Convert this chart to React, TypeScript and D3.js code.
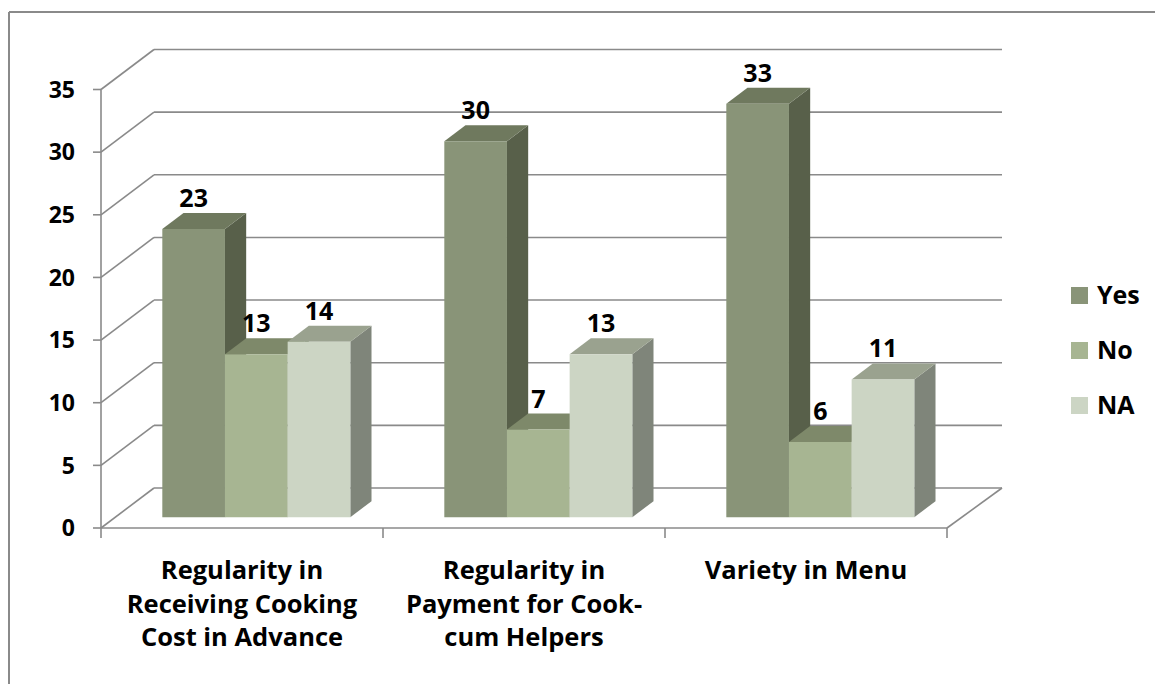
// React
import React from 'react';

// Installed Packages
import * as d3 from 'd3';

const categories: string[][] = [
    ['Regularity in', 'Receiving Cooking', 'Cost in Advance'],
    ['Regularity in', 'Payment for Cook-', 'cum Helpers'],
    ['Variety in Menu'],
];
const seriesNames = ['Yes', 'No', 'NA'];
const yesValues = [23, 30, 33];
const noValues = [13, 7, 6];
const naValues = [14, 13, 11];
const yTicks = [0, 5, 10, 15, 20, 25, 30, 35];

// front, top, side shades for each series
const faceColors = [
    { front: '#899478', top: '#6F795E', side: '#58604A' },
    { front: '#A7B592', top: '#7E896A', side: '#6A7458' },
    { front: '#CCD5C4', top: '#9AA28F', side: '#7F857A' },
];

const FONT = '"Open Sans", Lato, sans-serif';
const GRID = '#8a8a8a';

export default function App() {
    const width = 1155;
    const height = 684;

    // front plane of the 3D box
    const left = 101, right = 947, bottom = 528;
    const depthX = 53, depthY = -40;

    const y = d3.scaleLinear().domain([0, 35]).range([bottom, bottom - 438.5]);
    const x = d3.scaleBand<number>()
        .domain(categories.map((_, i) => i))
        .range([left, right])
        .paddingInner(0)
        .paddingOuter(0);
    const groupWidth = x.bandwidth() * 3 / 4.5;
    const inner = d3.scaleBand<number>().domain([0, 1, 2]).range([0, groupWidth]);

    const series = [yesValues, noValues, naValues];

    // project a front-plane point into depth (0 = front, 1 = back wall)
    const pt = (px: number, py: number, d: number) => [px + d * depthX, py + d * depthY];
    const dFront = 0.27, dBack = 0.67;

    const poly = (pts: number[][]) => pts.map(p => p.join(',')).join(' ');

    const bars: React.ReactElement[] = [];
    const labels: React.ReactElement[] = [];
    categories.forEach((_, ci) => {
        const gx = x(ci)! + (x.bandwidth() - groupWidth) / 2;
        series.forEach((vals, si) => {
            const v = vals[ci];
            const x0 = gx + inner(si)!;
            const x1 = x0 + inner.bandwidth();
            const yt = y(v), yb = y(0);
            const c = faceColors[si];
            const fl = pt(x0, yt, dFront), fr = pt(x1, yt, dFront);
            const bl = pt(x0, yt, dBack), br = pt(x1, yt, dBack);
            const frb = pt(x1, yb, dFront), brb = pt(x1, yb, dBack);
            const flb = pt(x0, yb, dFront);
            bars.push(
                <g key={`b${ci}-${si}`}>
                    <polygon points={poly([fr, br, brb, frb])} fill={c.side} />
                    <polygon points={poly([fl, bl, br, fr])} fill={c.top} />
                    <polygon points={poly([fl, fr, frb, flb])} fill={c.front} />
                </g>
            );
            labels.push(
                <text key={`l${ci}-${si}`} x={(fl[0] + fr[0]) / 2} y={bl[1] - 6}
                    textAnchor="middle" fontFamily={FONT} fontWeight="bold" fontSize={25} fill="#000">
                    {v}
                </text>
            );
        });
    });

    return (
        <div style={{ position: 'absolute', left: 0, top: 0 }}>
            <svg width={width} height={height} style={{ display: 'block', background: '#fff' }}>
                {/* chart border, cropped at right and bottom */}
                <line x1={9} y1={12} x2={width} y2={12} stroke={GRID} strokeWidth={2} />
                <line x1={9} y1={12} x2={9} y2={height} stroke={GRID} strokeWidth={2} />

                {/* back wall gridlines and side wall diagonals */}
                {yTicks.map(t => (
                    <g key={`g${t}`}>
                        <line x1={left + depthX} y1={y(t) + depthY} x2={1002} y2={y(t) + depthY}
                            stroke={GRID} strokeWidth={1.6} />
                        <line x1={left} y1={y(t)} x2={left + depthX} y2={y(t) + depthY}
                            stroke={GRID} strokeWidth={1.6} />
                        <line x1={left - 8} y1={y(t)} x2={left} y2={y(t)} stroke={GRID} strokeWidth={1.6} />
                        <text x={75} y={y(t)} dy="0.36em" textAnchor="end" fontFamily={FONT}
                            fontWeight="bold" fontSize={23} fill="#000">{t}</text>
                    </g>
                ))}
                {/* floor right edge */}
                <line x1={right} y1={bottom} x2={1002} y2={bottom + depthY} stroke={GRID} strokeWidth={1.6} />
                {/* value axis */}
                <line x1={left} y1={y(0)} x2={left} y2={y(35)} stroke={GRID} strokeWidth={1.6} />

                {bars}

                {/* category axis */}
                <line x1={left} y1={bottom} x2={right} y2={bottom} stroke={GRID} strokeWidth={1.6} />
                {[0, 1, 2, 3].map(i => {
                    const tx = left + i * x.step();
                    return <line key={`t${i}`} x1={tx} y1={bottom} x2={tx} y2={bottom + 10} stroke={GRID} strokeWidth={1.6} />;
                })}

                {labels}

                {categories.map((lines, ci) => (
                    <text key={`c${ci}`} x={x(ci)! + x.bandwidth() / 2} y={579} textAnchor="middle"
                        fontFamily={FONT} fontWeight="bold" fontSize={25.5} fill="#000">
                        {lines.map((ln, li) => (
                            <tspan key={li} x={x(ci)! + x.bandwidth() / 2} dy={li === 0 ? 0 : 33.5}>{ln}</tspan>
                        ))}
                    </text>
                ))}

                {/* legend */}
                {seriesNames.map((name, si) => (
                    <g key={`lg${si}`} transform={`translate(1071, ${287 + si * 55})`}>
                        <rect width={17} height={17} fill={faceColors[si].front} />
                        <text x={26} y={17} fontFamily={FONT} fontWeight="bold" fontSize={25} fill="#000">{name}</text>
                    </g>
                ))}
            </svg>
        </div>
    );
}
